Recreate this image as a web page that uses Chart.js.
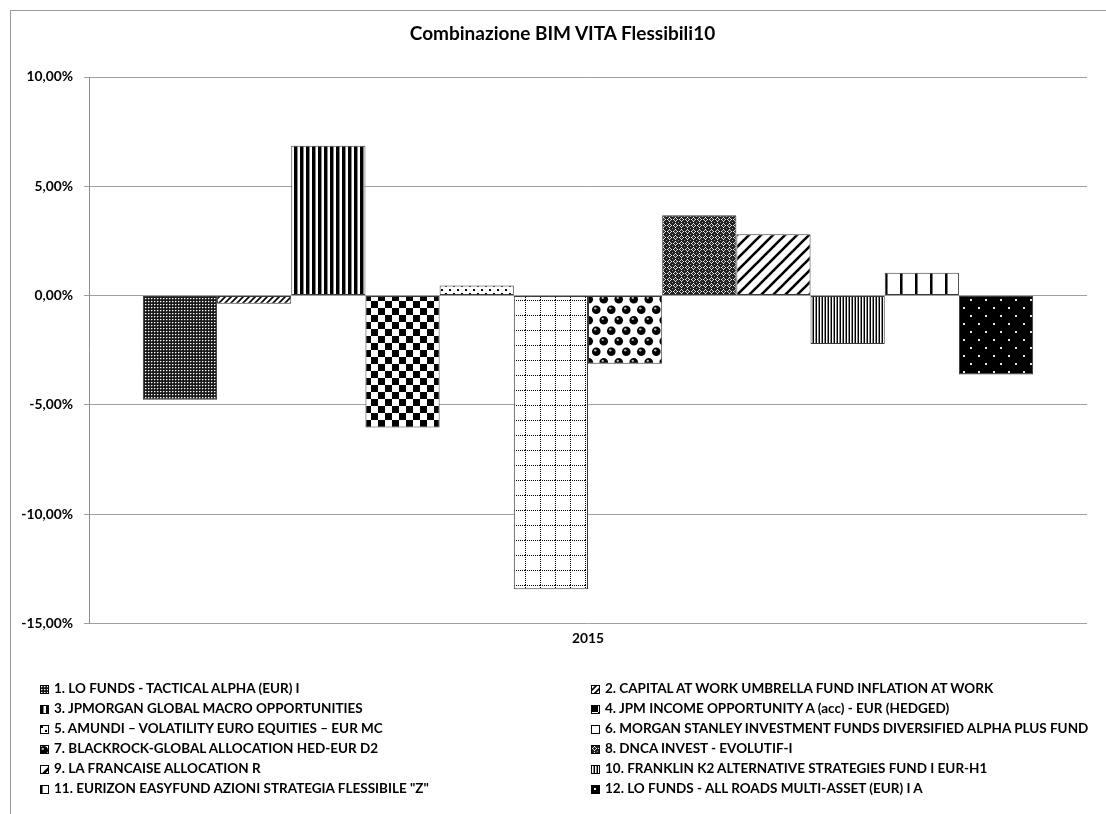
<!DOCTYPE html>
<html>
<head>
<meta charset="utf-8">
<script src="https://cdn.jsdelivr.net/npm/chart.js@4.4.1/dist/chart.umd.min.js"></script>
<style>
  html, body { margin: 0; padding: 0; background: #fff; }
  #wrap { position: relative; width: 1106px; height: 814px; overflow: hidden; font-family: Lato, "Open Sans", sans-serif; }
  #frame { position: absolute; left: 10px; top: 10px; width: 1120px; height: 830px; border: 1px solid #9a9a9a; box-sizing: border-box; }
  #title { position: absolute; left: 10px; width: 1105px; top: 23px; line-height: 20px; text-align: center; font-weight: bold; font-size: 19px; color: #000; }
  #chart { position: absolute; left: 0; top: 0; }
  .leg { position: absolute; font-weight: bold; font-size: 13.5px; line-height: 20px; color: #000; white-space: nowrap; }
  .leg canvas { vertical-align: -1px; margin-right: 5px; }
</style>
</head>
<body>
<div id="wrap">
  <div id="frame"></div>
  <canvas id="chart" width="1106" height="814"></canvas>
  <div id="title">Combinazione BIM VITA Flessibili10</div>
  <div id="legend"></div>
</div>
<script>
const categories = ['2015'];

const fundNames = [
    '1. LO FUNDS - TACTICAL ALPHA (EUR) I',
    '2. CAPITAL AT WORK UMBRELLA FUND INFLATION AT WORK',
    '3. JPMORGAN GLOBAL MACRO OPPORTUNITIES',
    '4. JPM INCOME OPPORTUNITY A (acc) - EUR (HEDGED)',
    '5. AMUNDI \u2013 VOLATILITY EURO EQUITIES \u2013 EUR MC',
    '6. MORGAN STANLEY INVESTMENT FUNDS DIVERSIFIED ALPHA PLUS FUND',
    '7. BLACKROCK-GLOBAL ALLOCATION HED-EUR D2',
    '8. DNCA INVEST - EVOLUTIF-I',
    '9. LA FRANCAISE ALLOCATION R',
    '10. FRANKLIN K2 ALTERNATIVE STRATEGIES FUND I EUR-H1',
    '11. EURIZON EASYFUND AZIONI STRATEGIA FLESSIBILE "Z"',
    '12. LO FUNDS - ALL ROADS MULTI-ASSET (EUR) I A'
];

// rendimento 2015, in %
const returns2015 = [-4.77, -0.37, 6.85, -6.03, 0.46, -13.44, -3.12, 3.68, 2.80, -2.22, 1.04, -3.61];

const yMin = -15;
const yMax = 10;
const yStep = 5;

// --- pattern tiles (Excel-like fills) ---
function tile(w, h, draw) {
    const c = document.createElement('canvas');
    c.width = w; c.height = h;
    const g = c.getContext('2d');
    draw(g, w, h);
    return c;
}

const px = (g, x, y, col) => { g.fillStyle = col; g.fillRect(x, y, 1, 1); };

const tiles = [
    // 1 dark grid with white dots
    tile(3, 3, (g) => { g.fillStyle = '#1a1a1a'; g.fillRect(0, 0, 3, 3); px(g, 1, 1, '#fff'); px(g, 2, 1, '#777'); px(g, 1, 2, '#555'); }),
    // 2 light upward diagonal
    tile(6, 6, (g) => {
        g.fillStyle = '#fff'; g.fillRect(0, 0, 6, 6);
        g.strokeStyle = '#000'; g.lineWidth = 1.6;
        g.beginPath(); g.moveTo(-1, 7); g.lineTo(7, -1); g.stroke();
        g.beginPath(); g.moveTo(-1, 1); g.lineTo(1, -1); g.stroke();
        g.beginPath(); g.moveTo(5, 7); g.lineTo(7, 5); g.stroke();
    }),
    // 3 dark vertical stripes
    tile(6, 1, (g) => { g.fillStyle = '#fff'; g.fillRect(0, 0, 6, 1); g.fillStyle = '#000'; g.fillRect(0, 0, 3, 1); px(g, 3, 0, '#888'); }),
    // 4 large checkerboard
    tile(14, 14, (g) => { g.fillStyle = '#fff'; g.fillRect(0, 0, 14, 14); g.fillStyle = '#000'; g.fillRect(0, 0, 7, 7); g.fillRect(7, 7, 7, 7); }),
    // 5 sparse dots
    tile(8, 8, (g) => { g.fillStyle = '#fff'; g.fillRect(0, 0, 8, 8); g.fillStyle = '#000'; g.fillRect(1, 1, 2, 2); g.fillRect(5, 5, 2, 2); }),
    // 6 dotted grid
    tile(15, 15, (g) => {
        g.fillStyle = '#fff'; g.fillRect(0, 0, 15, 15);
        g.fillStyle = '#000';
        for (let i = 0; i < 15; i += 2) { g.fillRect(i, 0, 1, 1); g.fillRect(0, i, 1, 1); }
    }),
    // 7 spheres
    tile(15, 21, (g) => {
        g.fillStyle = '#fff'; g.fillRect(0, 0, 15, 21);
        [[3.75, 5.25], [11.25, 15.75], [18.75, 5.25], [-3.75, 15.75], [11.25, -5.25], [3.75, 26.25], [-3.75, -5.25], [18.75, 26.25]].forEach(([x, y]) => {
            g.fillStyle = '#000'; g.beginPath(); g.arc(x, y, 4.3, 0, Math.PI * 2); g.fill();
            g.fillStyle = '#bbb'; g.beginPath(); g.arc(x - 1, y - 1.4, 1.2, 0, Math.PI * 2); g.fill();
        });
    }),
    // 8 dotted diamond, dark
    tile(6, 6, (g) => {
        g.fillStyle = '#222'; g.fillRect(0, 0, 6, 6);
        px(g, 3, 1, '#fff'); px(g, 2, 2, '#ccc'); px(g, 4, 2, '#ccc'); px(g, 1, 3, '#fff'); px(g, 5, 3, '#fff');
        px(g, 2, 4, '#ccc'); px(g, 4, 4, '#ccc'); px(g, 3, 5, '#fff'); px(g, 0, 0, '#999');
    }),
    // 9 wide upward diagonal
    tile(12, 12, (g) => {
        g.fillStyle = '#fff'; g.fillRect(0, 0, 12, 12);
        g.strokeStyle = '#000'; g.lineWidth = 2.6;
        g.beginPath(); g.moveTo(-2, 14); g.lineTo(14, -2); g.stroke();
        g.beginPath(); g.moveTo(-2, 2); g.lineTo(2, -2); g.stroke();
        g.beginPath(); g.moveTo(10, 14); g.lineTo(14, 10); g.stroke();
    }),
    // 10 narrow vertical
    tile(3, 1, (g) => { px(g, 0, 0, '#000'); px(g, 1, 0, '#fff'); px(g, 2, 0, '#8a8a8a'); }),
    // 11 wide-spaced vertical lines
    tile(15, 1, (g) => { g.fillStyle = '#fff'; g.fillRect(0, 0, 15, 1); px(g, 0, 0, '#000'); px(g, 1, 0, '#000'); px(g, 2, 0, '#777'); }),
    // 12 black with white dots
    tile(15, 16, (g) => {
        g.fillStyle = '#000'; g.fillRect(0, 0, 15, 16);
        g.fillStyle = '#e8e8e8'; g.fillRect(3, 3, 2, 2); g.fillRect(10, 11, 2, 2);
    })
];

const chartCanvas = document.getElementById('chart');
const ctx = chartCanvas.getContext('2d');
const fills = tiles.map(t => ctx.createPattern(t, 'repeat'));

const datasets = fundNames.map((name, i) => ({
    label: name,
    data: [returns2015[i]],
    backgroundColor: fills[i],
    borderColor: '#3a3a3a',
    borderWidth: 1,
    borderSkipped: false,
    categoryPercentage: 0.892,
    barPercentage: 1
}));

const fmtPct = v => v.toFixed(2).replace('.', ',') + '%';
const axisFont = { family: 'Lato', size: 13.8, weight: 'bold' };

new Chart(chartCanvas, {
    type: 'bar',
    data: { labels: categories, datasets },
    options: {
        responsive: false,
        animation: false,
        layout: { padding: { left: 10, right: 19, top: 77, bottom: 160 } },
        plugins: {
            legend: { display: false },
            title: { display: false },
            tooltip: { enabled: false }
        },
        scales: {
            x: {
                grid: { display: false, drawTicks: false },
                border: { display: false },
                ticks: { color: '#000', padding: 7, font: axisFont }
            },
            y: {
                min: yMin,
                max: yMax,
                afterFit: s => { s.width = 79; },
                grid: { color: '#a0a0a0', tickLength: 5, drawTicks: true },
                border: { display: true, color: '#8c8c8c' },
                ticks: {
                    stepSize: yStep,
                    padding: 11,
                    color: '#000',
                    font: axisFont,
                    callback: v => fmtPct(v)
                }
            }
        }
    }
});

// legenda su due colonne, come nell'originale
const legend = document.getElementById('legend');
fundNames.forEach((name, i) => {
    const row = document.createElement('div');
    row.className = 'leg';
    row.style.left = (i % 2 === 0 ? 40 : 591) + 'px';
    row.style.top = (678 + Math.floor(i / 2) * 20) + 'px';
    const box = document.createElement('canvas');
    box.width = 9; box.height = 9;
    const b = box.getContext('2d');
    b.fillStyle = b.createPattern(tiles[i], 'repeat');
    b.fillRect(0, 0, 9, 9);
    b.strokeStyle = '#000';
    b.strokeRect(0.5, 0.5, 8, 8);
    row.appendChild(box);
    row.appendChild(document.createTextNode(name));
    legend.appendChild(row);
});
</script>
</body>
</html>
